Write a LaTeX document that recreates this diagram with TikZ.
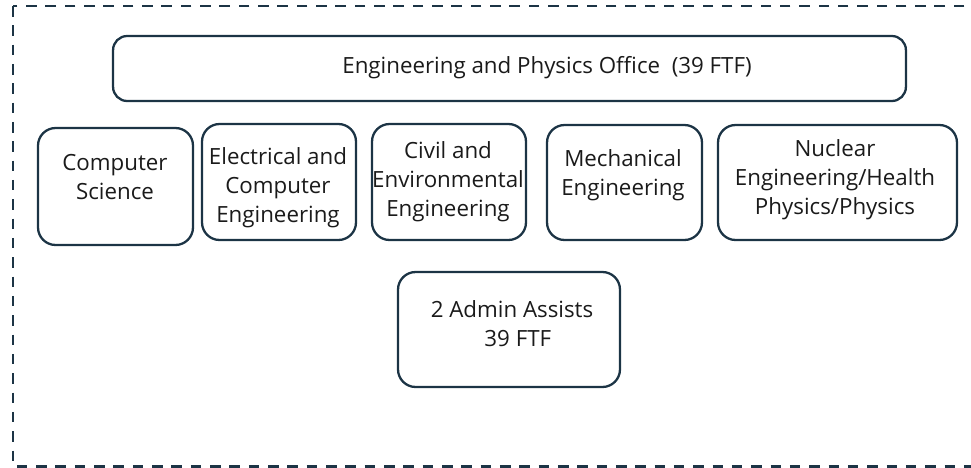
\documentclass[tikz,border=0pt]{standalone}
\usepackage{fontspec}
\setmainfont{Open Sans}
\definecolor{navy}{HTML}{1C3445}
\definecolor{ink}{HTML}{1A1A1A}
\begin{document}
\begin{tikzpicture}[x=.02cm, y=-.02cm,
                    unit/.style={draw=navy, line width=1.3pt, rounded corners=10pt, inner sep=0pt},
                    office/.style={unit, rounded corners=8pt},
                    txt/.style={align=center, text=ink, font=\fontsize{12.7}{16.4}\selectfont}]
  \clip (0,0) rectangle (971,467);
  \draw[navy, line width=1.7pt, dash pattern=on 6pt off 5pt] (13,6) rectangle (995,466);
  % boxes
  \node[office, minimum width=15.86cm, minimum height=1.3cm] (eng) at (509.5,68.5) {};
  \node[unit, minimum width=3.1cm, minimum height=2.34cm] (cs) at (115.5,186.5) {};
  \node[unit, minimum width=3.08cm, minimum height=2.32cm] (ece) at (279,182) {};
  \node[unit, minimum width=3.08cm, minimum height=2.32cm] (civil) at (449,182) {};
  \node[unit, minimum width=3.1cm, minimum height=2.3cm] (mech) at (624.5,182.5) {};
  \node[unit, minimum width=4.78cm, minimum height=2.3cm] (nuc) at (837.5,182.5) {};
  \node[unit, minimum width=4.44cm, minimum height=2.3cm] (admin) at (509,329.5) {};
  % texts
  \node[txt] (engtext) at (547,68) {Engineering and Physics Office\ \ (39 FTF)};
  \node[txt] (cstext) at (115,177) {Computer\\Science};
  \node[txt] (ecetext) at (278,188) {Electrical and\\Computer\\Engineering};
  \node[txt] (civiltext) at (448,182) {Civil and\\Environmental\\Engineering};
  \node[txt] (mechtext) at (623,175) {Mechanical\\Engineering};
  \node[txt] (nuctext) at (835,180) {Nuclear\\Engineering/Health\\Physics/Physics};
  \node[txt] (admintext) at (512,324) {2 Admin Assists\\\ \ 39 FTF};
\end{tikzpicture}
\end{document}
